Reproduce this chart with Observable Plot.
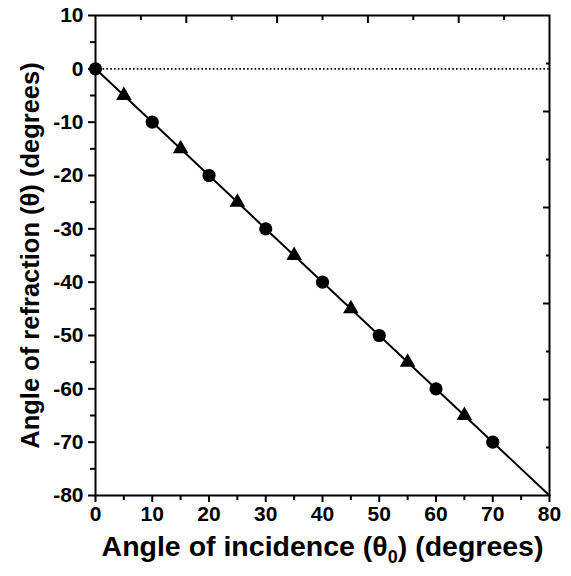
<!DOCTYPE html>
<html>
<head>
<meta charset="utf-8">
<script src="https://cdn.jsdelivr.net/npm/d3@7"></script>
<script src="https://cdn.jsdelivr.net/npm/@observablehq/plot@0.6"></script>
<style>
  html, body { margin: 0; padding: 0; background: #fff; }
</style>
</head>
<body>
<div id="chart"></div>
<script>
// Data
const circleX = [0, 10, 20, 30, 40, 50, 60, 70];
const circleY = [0, -10, -20, -30, -40, -50, -60, -70];
const triangleX = [5, 15, 25, 35, 45, 55, 65];
const triangleY = [-5, -15, -25, -35, -45, -55, -65];
const lineX = [0, 80];
const lineY = [0, -80];

// Tick values
const xMajor = [0, 10, 20, 30, 40, 50, 60, 70, 80];
const xMinor = [5, 15, 25, 35, 45, 55, 65, 75];
const yMajor = [10, 0, -10, -20, -30, -40, -50, -60, -70, -80];
const yMinor = [5, -5, -15, -25, -35, -45, -55, -65, -75];
const topLong = [16, 32, 48, 64];
const topShort = [8, 24, 40, 56, 72];
const rightLong = [-8, -26, -44, -62];
const rightShort = [1, -17, -35, -53, -71];

const xTitle = "Angle of incidence (θ0) (degrees)";
const yTitle = "Angle of refraction (θ) (degrees)";

const circles = circleX.map((x, i) => ({x, y: circleY[i]}));
const triangles = triangleX.map((x, i) => ({x, y: triangleY[i]}));
const line = lineX.map((x, i) => ({x, y: lineY[i]}));

const fmt = d => String(d);

const chart = Plot.plot({
  width: 571,
  height: 576,
  marginLeft: 95,
  marginRight: 22,
  marginTop: 15,
  marginBottom: 81,
  style: {fontFamily: "'Liberation Sans', Arial, Helvetica, sans-serif", fontWeight: "bold", fontSize: "21px", color: "#000", background: "#fff"},
  x: {domain: [0, 80]},
  y: {domain: [-80, 10]},
  marks: [
    Plot.ruleY([0], {stroke: "#000", strokeWidth: 1.6, strokeDasharray: "1.6,2.2"}),
    Plot.line(line, {x: "x", y: "y", stroke: "#000", strokeWidth: 2}),
    Plot.dot(circles, {x: "x", y: "y", r: 6.6, fill: "#000", stroke: "none"}),
    Plot.dot(triangles, {x: "x", y: "y", r: 5.8, symbol: "triangle", fill: "#000", stroke: "none"}),
    // bottom axis
    Plot.axisX({ticks: xMajor, tickSize: 7, tickPadding: 4, tickFormat: fmt, fontSize: 21, fontWeight: "bold", strokeWidth: 2, label: null}),
    Plot.axisX({ticks: xMinor, tickSize: 5, text: null, strokeWidth: 2, label: null}),
    // left axis
    Plot.axisY({ticks: yMajor, tickSize: 7, tickPadding: 5, tickFormat: fmt, fontSize: 21, fontWeight: "bold", strokeWidth: 2, label: null}),
    Plot.axisY({ticks: yMinor, tickSize: 5, text: null, strokeWidth: 2, label: null}),
    // top axis (inward ticks)
    Plot.axisX({anchor: "top", ticks: topLong, tickSize: -7, text: null, strokeWidth: 2, label: null}),
    Plot.axisX({anchor: "top", ticks: topShort, tickSize: -4, text: null, strokeWidth: 2, label: null}),
    // right axis (inward ticks)
    Plot.axisY({anchor: "right", ticks: rightLong, tickSize: -7, text: null, strokeWidth: 2, label: null}),
    Plot.axisY({anchor: "right", ticks: rightShort, tickSize: -4, text: null, strokeWidth: 2, label: null}),
    Plot.frame({stroke: "#000", strokeWidth: 2}),
    // axis titles
    Plot.text([xTitle], {frameAnchor: "bottom", textAnchor: "middle", dy: 60, fontSize: 28.5, fontWeight: "bold", fill: "#000"}),
    Plot.text([yTitle], {frameAnchor: "left", textAnchor: "middle", rotate: -90, dx: -65, fontSize: 25.5, fontWeight: "bold", fill: "#000"})
  ]
});

document.getElementById("chart").appendChild(chart);

// subscript on θ0
const svgNS = "http://www.w3.org/2000/svg";
const t = [...chart.querySelectorAll("text")].find(e => e.textContent === xTitle);
if (t) {
  t.textContent = "";
  const a = document.createElementNS(svgNS, "tspan");
  a.textContent = "Angle of incidence (θ";
  const b = document.createElementNS(svgNS, "tspan");
  b.textContent = "0";
  b.setAttribute("dy", "7");
  b.setAttribute("font-size", "18");
  const c = document.createElementNS(svgNS, "tspan");
  c.textContent = ") (degrees)";
  c.setAttribute("dy", "-7");
  t.append(a, b, c);
}
</script>
</body>
</html>
